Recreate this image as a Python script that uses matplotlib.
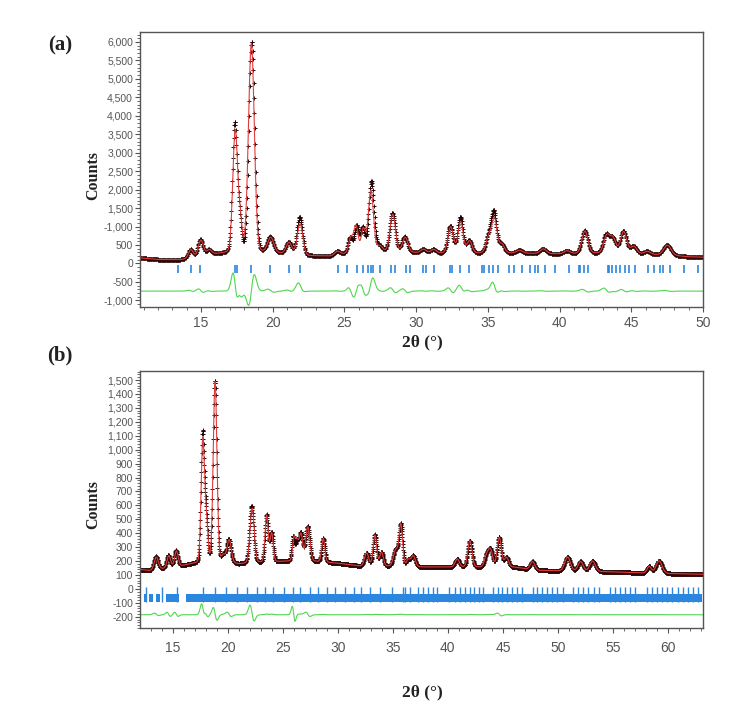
import numpy as np
import matplotlib
matplotlib.use("Agg")
import matplotlib.pyplot as plt
from matplotlib.ticker import MultipleLocator, FixedLocator, FixedFormatter

# ---------------- Panel (a) data ----------------
a_bg_x = [10.75, 12.0, 13.5, 15.0, 16.0, 17.0, 19.3, 20.5, 21.5, 22.5, 24.0, 25.0, 26.0,
          27.5, 29.5, 31.0, 34.0, 37.0, 40.0, 42.5, 44.0, 46.0, 48.0, 49.0, 50.0]
a_bg_y = [150, 105, 100, 170, 260, 300, 310, 280, 250, 210, 200, 260, 330,
          330, 300, 280, 280, 280, 260, 280, 290, 250, 215, 180, 170]
a_pos   = [14.28, 14.96, 15.55, 17.36, 17.72, 18.54, 19.83, 21.12, 21.88, 24.5, 25.4,
           25.85, 26.28, 26.88, 27.45, 28.35, 29.2, 30.5, 31.2, 32.38, 33.08, 33.7, 35.05,
           35.42, 35.95, 37.2, 38.85, 40.5, 41.75, 43.25, 43.72, 44.45, 45.15, 46.1, 47.5]
a_obs_h = [240, 480, 150, 3500, 750, 5700, 420, 320, 1020, 100, 420,
           700, 640, 1900, 150, 1050, 420, 100, 100, 740, 980, 340, 440,
           1080, 250, 80, 130, 80, 620, 500, 380, 600, 200, 80, 280]
a_calc_h = [230, 460, 145, 3300, 770, 5650, 400, 305, 840, 95, 400,
            690, 600, 1650, 145, 1010, 400, 95, 95, 710, 850, 330, 430,
            900, 240, 78, 125, 78, 600, 480, 370, 580, 195, 78, 270]
a_fwhm  = [0.40, 0.42, 0.42, 0.40, 0.30, 0.48, 0.50, 0.45, 0.45, 0.45, 0.36,
           0.34, 0.34, 0.42, 0.42, 0.45, 0.45, 0.45, 0.45, 0.45, 0.42, 0.42, 0.45,
           0.42, 0.45, 0.50, 0.50, 0.50, 0.50, 0.50, 0.45, 0.50, 0.50, 0.50, 0.60]
a_shift = [0.02, 0.03, 0.02, 0.03, 0.03, -0.025, 0.035, 0.02, 0.03, 0.02, 0.05,
           -0.04, 0.04, -0.03, 0.02, 0.02, 0.04, 0.02, 0.02, 0.03, 0.02, 0.02, 0.02,
           0.04, 0.02, 0.02, 0.02, 0.02, 0.02, 0.05, 0.02, 0.02, 0.02, 0.02, 0.02]
a_bragg = [13.42, 14.28, 14.96, 17.34, 17.54, 18.48, 19.83, 21.12, 21.87, 24.56, 25.21,
           25.85, 26.28, 26.65, 26.85, 27.02, 27.45, 28.28, 28.51, 29.28, 29.57, 30.45,
           30.66, 31.23, 32.38, 32.52, 33.09, 33.72, 34.58, 34.75, 35.09, 35.38, 35.73,
           36.47, 36.81, 37.39, 37.96, 38.30, 38.53, 38.97, 39.68, 40.69, 41.34, 41.45,
           41.68, 41.97, 43.35, 43.46, 43.69, 43.92, 44.21, 44.55, 44.84, 45.26, 46.18,
           46.56, 46.98, 47.18, 47.70, 48.70, 49.64]
a_diff_offset = -750
a_yticks = [-1000, -500, 0, 500, 1000, 1500, 2000, 2500, 3000, 3500, 4000, 4500, 5000, 5500, 6000]
a_yticklabels = ['-1,000', '-500', '0', '500', '-1,000', '1,500', '2,000', '2,500', '3,000',
                 '3,500', '4,000', '4,500', '5,000', '5,500', '6,000']
a_xticks = [15, 20, 25, 30, 35, 40, 45, 50]

# ---------------- Panel (b) data ----------------
b_bg_x = [12.0, 13.0, 14.0, 15.0, 16.0, 17.0, 19.5, 21.0, 22.5, 25.0, 26.0, 28.0, 30.0,
          32.0, 34.0, 36.0, 38.0, 41.0, 46.0, 48.0, 55.0, 58.0, 63.2]
b_bg_y = [140, 132, 145, 158, 170, 185, 200, 180, 190, 198, 202, 198, 185,
          165, 165, 160, 158, 158, 157, 134, 123, 114, 106]
b_pos   = [13.48, 14.6, 15.3, 17.72, 18.05, 18.84, 19.6, 20.1, 22.17, 23.53, 23.99, 25.95,
           26.3, 26.65, 27.26, 28.68, 32.62, 33.37, 33.97, 35.27, 35.73, 36.4, 36.85,
           40.85, 42.0, 43.52, 43.88, 44.66, 45.33, 47.7, 50.88, 52.06, 53.15, 58.29, 59.19]
b_obs_h = [95, 90, 115, 930, 300, 1300, 45, 165, 410, 340, 210, 175,
           130, 200, 250, 170, 95, 225, 100, 120, 300, 50, 80,
           58, 190, 80, 120, 215, 70, 60, 100, 70, 75, 50, 90]
b_calc_h = [90, 85, 110, 880, 290, 1290, 43, 160, 390, 335, 205, 165,
            125, 195, 245, 168, 93, 222, 98, 118, 296, 49, 79,
            57, 188, 79, 118, 212, 69, 59, 99, 69, 74, 49, 89]
b_fwhm  = [0.45, 0.38, 0.38, 0.36, 0.32, 0.40, 0.38, 0.45, 0.45, 0.34, 0.34, 0.30,
           0.30, 0.38, 0.45, 0.34, 0.45, 0.38, 0.38, 0.50, 0.38, 0.38, 0.45,
           0.45, 0.45, 0.45, 0.45, 0.45, 0.45, 0.50, 0.60, 0.55, 0.60, 0.45, 0.65]
b_shift = [0.03, 0.045, 0.035, 0.012, 0.015, 0.01, 0.0, 0.03, 0.045, 0.0, 0.0, 0.07,
           0.0, 0.0, 0.02, 0.0, 0.0, 0.0, 0.0, 0.0, 0.0, 0.0, 0.0,
           0.0, 0.0, 0.0, 0.0, 0.015, 0.0, 0.0, 0.0, 0.0, 0.0, 0.0, 0.0]
b_bragg_tall = [12.57, 14.06, 15.36, 17.78, 18.84, 19.81, 20.81, 21.72, 22.63, 23.38, 24.08,
                25.11, 25.95, 26.56, 27.47, 28.22, 28.99, 29.74, 30.65, 31.47, 32.07, 32.92,
                33.83, 34.89, 35.89, 36.10, 36.55, 37.31, 37.76, 38.22, 38.67, 39.03, 40.12,
                40.64, 41.09, 41.55, 42.00, 42.37, 42.82, 43.21, 44.06, 44.52, 44.88, 45.34,
                45.79, 46.24, 46.70, 47.75, 48.11, 48.51, 48.97, 49.42, 49.88, 50.42, 51.39,
                51.84, 52.29, 52.75, 53.27, 53.75, 54.72, 55.17, 55.63, 56.08, 56.54, 56.99,
                58.05, 58.51, 58.96, 59.41, 59.87, 60.32, 60.92, 61.38, 61.83, 62.29, 62.74]
b_band_start = [12.35, 12.85, 13.45, 14.35, 14.95, 16.2]
b_band_end   = [12.60, 13.20, 13.85, 14.90, 15.55, 63.05]
b_diff_offset = -185
b_yticks = list(range(-200, 1501, 100))
b_xticks = [15, 20, 25, 30, 35, 40, 45, 50, 55, 60]


def pv(x, pos, h, fwhm, eta=0.06):
    u = (x - pos) / fwhm
    return h * (eta / (1 + 4 * u * u) + (1 - eta) * np.exp(-4 * np.log(2) * u * u))


def patterns(x, bgx, bgy, pos, oh, ch, fw, sh):
    bg = np.interp(x, bgx, bgy)
    obs = bg.copy()
    calc = bg.copy()
    for p, o, c, w, s in zip(pos, oh, ch, fw, sh):
        obs += pv(x, p, o, w)
        calc += pv(x, p + s, c, w)
    return obs, calc


OBS_C = '#2a0505'
CALC_C = '#e23b3b'
DIFF_C = '#4fd64f'
TICK_C = '#2b86e0'
SPINE_C = '#555555'
LAB_C = '#555555'

fig = plt.figure(figsize=(7.35, 7.15), dpi=100)
W, H = 735, 715


def add_axes(l, t, r, b):
    return fig.add_axes([l / W, 1 - b / H, (r - l) / W, (b - t) / H])


def style(ax, xpad):
    for s in ax.spines.values():
        s.set_color(SPINE_C)
        s.set_linewidth(1.0)
    ax.tick_params(axis='both', which='major', direction='out', length=3.5, width=0.8,
                   color=SPINE_C, labelcolor=LAB_C)
    ax.tick_params(axis='both', which='minor', direction='out', length=2, width=0.6,
                   color=SPINE_C)
    ax.tick_params(axis='y', labelsize=7.5, pad=1.5)
    ax.tick_params(axis='x', labelsize=10, pad=xpad)
    for lab in ax.get_xticklabels() + ax.get_yticklabels():
        lab.set_fontfamily('Liberation Sans')


# ---------------- Panel (a) ----------------
axa = add_axes(140, 32, 703, 307)
xa = np.arange(10.75, 50.0, 0.025)
obs_a, calc_a = patterns(xa, a_bg_x, a_bg_y, a_pos, a_obs_h, a_calc_h, a_fwhm, a_shift)
axa.plot(xa, obs_a, linestyle='none', marker='+', markersize=3.5, markeredgewidth=0.7,
         color=OBS_C, zorder=2)
axa.plot(xa, calc_a, color=CALC_C, lw=0.8, zorder=3)
axa.plot(xa, obs_a - calc_a + a_diff_offset, color=DIFF_C, lw=0.8, zorder=2)
axa.vlines(a_bragg, -260, -40, color=TICK_C, lw=1.2, zorder=2)
axa.set_xlim(10.75, 50.0)
axa.set_ylim(-1180, 6270)
axa.yaxis.set_major_locator(FixedLocator(a_yticks))
axa.yaxis.set_major_formatter(FixedFormatter(a_yticklabels))
axa.yaxis.set_minor_locator(MultipleLocator(100))
axa.xaxis.set_major_locator(FixedLocator(a_xticks))
axa.xaxis.set_minor_locator(MultipleLocator(1))
style(axa, 3)
axa.set_xticklabels([str(v) for v in a_xticks], fontfamily='Liberation Sans')

# ---------------- Panel (b) ----------------
axb = add_axes(140, 371, 703, 628)
xb = np.arange(12.03, 63.18, 0.02)
obs_b, calc_b = patterns(xb, b_bg_x, b_bg_y, b_pos, b_obs_h, b_calc_h, b_fwhm, b_shift)
axb.plot(xb, obs_b, linestyle='none', marker='+', markersize=3.5, markeredgewidth=0.7,
         color=OBS_C, zorder=2)
axb.plot(xb, calc_b, color=CALC_C, lw=0.8, zorder=3)
axb.plot(xb, obs_b - calc_b + b_diff_offset, color=DIFF_C, lw=0.8, zorder=2)
for s0, s1 in zip(b_band_start, b_band_end):
    axb.fill_between([s0, s1], -95, -38, color=TICK_C, lw=0, zorder=2)
axb.vlines(b_bragg_tall, -95, 12, color=TICK_C, lw=1.0, zorder=2)
axb.set_xlim(12.03, 63.18)
axb.set_ylim(-280, 1565)
axb.yaxis.set_major_locator(FixedLocator(b_yticks))
axb.yaxis.set_major_formatter(FixedFormatter([f"{v:,}" for v in b_yticks]))
axb.yaxis.set_minor_locator(MultipleLocator(20))
axb.xaxis.set_major_locator(FixedLocator(b_xticks))
axb.xaxis.set_minor_locator(MultipleLocator(1))
style(axb, 6)
axb.set_xticklabels([str(v) for v in b_xticks], fontfamily='Liberation Sans')

# ---------------- Labels ----------------
serif = dict(fontfamily='Liberation Serif', fontweight='bold', color='#222222')
fig.text(60 / W, 1 - 45 / H, '(a)', fontsize=15, ha='center', va='center', **serif)
fig.text(60 / W, 1 - 355 / H, '(b)', fontsize=15, ha='center', va='center', **serif)
fig.text(93 / W, 1 - 176 / H, 'Counts', fontsize=11.5, rotation=90, ha='center', va='center', **serif)
fig.text(93 / W, 1 - 505 / H, 'Counts', fontsize=11.5, rotation=90, ha='center', va='center', **serif)
fig.text(422 / W, 1 - 342 / H, '2θ (°)', fontsize=12.5, ha='center', va='center', **serif)
fig.text(422 / W, 1 - 692 / H, '2θ (°)', fontsize=12.5, ha='center', va='center', **serif)

fig.savefig('out.png', dpi=100, facecolor='white')
